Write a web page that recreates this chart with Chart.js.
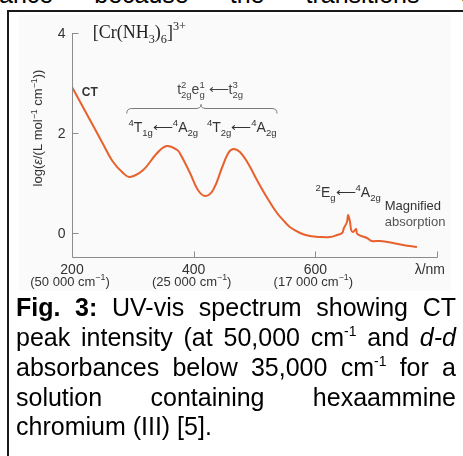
<!DOCTYPE html>
<html>
<head>
<meta charset="utf-8">
<script src="https://cdn.jsdelivr.net/npm/chart.js@4"></script>
<style>
  html, body { margin:0; padding:0; background:#fff; }
  #page { position:relative; width:463px; height:456px; overflow:hidden; background:#fff; }
  #frame { position:absolute; left:7px; top:10px; width:470px; height:460px; border-left:2px solid #1a1a1a; border-top:2px solid #1a1a1a; }
  #chartwrap { position:absolute; left:0; top:0; width:463px; height:456px; }
  .txt { position:absolute; font-family:"Liberation Sans", Arial, sans-serif; font-size:25px; line-height:30px; color:#000; white-space:nowrap; }
  .just { text-align:justify; text-align-last:justify; }
  sup { font-size:14px; line-height:0; vertical-align:10px; }
</style>
</head>
<body>
<div id="page">
  <div class="txt just" id="topline" style="left:-1px; top:-21px; width:474px;">ance because the transitions c</div>
  <div id="frame"></div>
  <div id="chartwrap"><canvas id="c" width="463" height="456"></canvas></div>
  <div class="txt just" style="left:16px; top:292px; width:440px;"><b>Fig. 3:</b> UV-vis spectrum showing CT</div>
  <div class="txt just" style="left:16px; top:322px; width:440px;">peak intensity (at 50,000 cm<sup>-1</sup> and <i>d-d</i></div>
  <div class="txt just" style="left:16px; top:352px; width:440px;">absorbances below 35,000 cm<sup>-1</sup> for a</div>
  <div class="txt just" style="left:16px; top:382px; width:440px;">solution containing hexaammine</div>
  <div class="txt" style="left:16px; top:411px;">chromium (III) [5].</div>
</div>
<script>
// ---- data ----
const wavelengthNm = [200,213,235,251,267,284,295,317,340,356,373,378,394,407,419,432,447,457,465,476,489,504,521,537,550,558,575,591,608,624,636,644,647,652,654,657,659,662,667,669,685,693,706,728,744,767];
const logEpsilon   = [2.92,2.63,2.14,1.78,1.43,1.2,1.12,1.26,1.6,1.74,1.66,1.58,1.2,0.86,0.74,0.86,1.32,1.6,1.68,1.62,1.4,1.06,0.7,0.4,0.22,0.12,0.0,-0.06,-0.08,-0.08,-0.04,0.0,0.1,0.22,0.36,0.22,0.06,0.02,0.08,-0.02,-0.1,-0.16,-0.16,-0.2,-0.24,-0.28];
const xTickValues  = [200, 400, 600, 800];
const xTickLabels  = ["200", "400", "600", ""];
const xTickWavenumbers = ["(50 000 cm", "(25 000 cm", "(17 000 cm"];
const yTickValues  = [0, 2, 4];
const yTickLabels  = ["0", "2", "4"];

const SANS = '"Liberation Sans", Arial, sans-serif';
const SERIF = '"Liberation Serif", "Times New Roman", serif';
const ARROW = '\u27f5';

function rich(ctx, segs, x, y, align, size, family, color, weight) {
  const fontFor = (m) => {
    const s = (m === 'sub' || m === 'sup' || m === 'supb') ? size * 0.68 : size;
    const st = m === 'i' ? 'italic ' : '';
    return st + (weight || '') + ' ' + s + 'px ' + family;
  };
  let total = 0, prevW = 0;
  segs.forEach(([t, m]) => {
    ctx.font = fontFor(m);
    const w = ctx.measureText(t).width;
    if (m === 'supb') { total += Math.max(0, w - prevW); }
    else { total += w; prevW = w; }
  });
  let cx = align === 'center' ? x - total / 2 : (align === 'right' ? x - total : x);
  ctx.textAlign = 'left'; ctx.textBaseline = 'alphabetic'; ctx.fillStyle = color;
  let prevX = cx; prevW = 0;
  segs.forEach(([t, m]) => {
    ctx.font = fontFor(m);
    const w = ctx.measureText(t).width;
    if (m === 'supb') {
      ctx.fillText(t, prevX, y - size * 0.42);
      cx = prevX + Math.max(w, prevW);
      return;
    }
    const dy = m === 'sub' ? size * 0.28 : (m === 'sup' ? -size * 0.42 : 0);
    ctx.fillText(t, cx, y + dy);
    prevX = cx; prevW = w;
    cx += w;
  });
}

const decor = {
  id: 'decor',
  beforeDraw(chart) {
    const ctx = chart.ctx;
    ctx.save();
    ctx.fillStyle = '#fafafa';
    ctx.fillRect(19, 15, 432, 276);
    ctx.restore();
  },
  afterDraw(chart) {
    const ctx = chart.ctx;
    const xs = chart.scales.x, ys = chart.scales.y;
    const X = v => xs.getPixelForValue(v), Y = v => ys.getPixelForValue(v);
    const ax = Math.round(X(200)) + 0.5, ay = Math.round(Y(ys.min)) + 0.5;
    ctx.save();
    // axes
    ctx.strokeStyle = '#8c8c8c'; ctx.lineWidth = 1;
    ctx.beginPath();
    ctx.moveTo(ax, Math.round(Y(4))); ctx.lineTo(ax, ay);
    ctx.lineTo(Math.round(X(800)) + 0.5, ay);
    ctx.stroke();
    // ticks
    ctx.beginPath();
    xTickValues.forEach(v => { if (v > 200) { const px = Math.round(X(v)) + 0.5; ctx.moveTo(px, ay); ctx.lineTo(px, ay - 6); } });
    yTickValues.forEach(v => { const py = Math.round(Y(v)) + 0.5; ctx.moveTo(ax, py); ctx.lineTo(ax + 6, py); });
    ctx.stroke();
    // tick labels
    const tc = '#333';
    ctx.font = '14px ' + SANS; ctx.fillStyle = tc; ctx.textAlign = 'center'; ctx.textBaseline = 'alphabetic';
    xTickValues.forEach((v, i) => { if (xTickLabels[i]) ctx.fillText(xTickLabels[i], X(v), ay + 16); });
    xTickWavenumbers.forEach((s, i) => {
      rich(ctx, [[s, ''], ['\u22121', 'sup'], [')', '']], X(xTickValues[i]) - 2, ay + 28, 'center', 13, SANS, tc);
    });
    rich(ctx, [['\u03bb/nm', '']], X(800) + 8, ay + 16, 'right', 14, SANS, tc);
    ctx.font = '14px ' + SANS;
    yTickValues.forEach((v, i) => { ctx.fillStyle = tc; ctx.textAlign = 'right'; ctx.fillText(yTickLabels[i], ax - 7, Y(v) + 5); });
    // y title
    ctx.save();
    ctx.translate(42, Y(2.1));
    ctx.rotate(-Math.PI / 2);
    rich(ctx, [['log(', ''], ['\u03b5', 'i'], ['/(L mol', ''], ['\u22121', 'sup'], [' cm', ''], ['\u22121', 'sup'], ['))', '']], 0, 0, 'center', 13, SANS, tc);
    ctx.restore();
    // annotations
    rich(ctx, [['[Cr(NH', ''], ['3', 'sub'], [')', ''], ['6', 'sub'], [']', ''], ['3+', 'sup']], X(234), Y(3.9), 'left', 18, SERIF, '#222');
    rich(ctx, [['CT', '']], X(216), Y(2.74), 'left', 12, SANS, '#333', 'bold');
    rich(ctx, [['t', ''], ['2g', 'sub'], ['2', 'supb'], ['e', ''], ['g', 'sub'], ['1', 'supb'], [' ' + ARROW + 't', ''], ['2g', 'sub'], ['3', 'supb']], X(427), Y(2.78), 'center', 14, SANS, '#444');
    rich(ctx, [['4', 'sup'], ['T', ''], ['1g', 'sub'], [ARROW, ''], ['4', 'sup'], ['A', ''], ['2g', 'sub']], X(350), Y(2.02), 'center', 14, SANS, '#333');
    rich(ctx, [['4', 'sup'], ['T', ''], ['2g', 'sub'], [ARROW, ''], ['4', 'sup'], ['A', ''], ['2g', 'sub']], X(479), Y(2.02), 'center', 14, SANS, '#333');
    rich(ctx, [['2', 'sup'], ['E', ''], ['g', 'sub'], [ARROW, ''], ['4', 'sup'], ['A', ''], ['2g', 'sub']], X(654), Y(0.72), 'center', 14, SANS, '#333');
    rich(ctx, [['Magnified', '']], X(714), Y(0.46), 'left', 13, SANS, '#333');
    rich(ctx, [['absorption', '']], X(714), Y(0.14), 'left', 13, SANS, '#555');
    // brace
    const bx1 = X(290), bx2 = X(537), bt = X(412), by = Math.round(Y(2.5)) + 0.5;
    ctx.strokeStyle = '#7a7a7a'; ctx.lineWidth = 1;
    ctx.beginPath();
    ctx.moveTo(bx1, by + 5);
    ctx.quadraticCurveTo(bx1, by, bx1 + 5, by);
    ctx.lineTo(bt - 5, by);
    ctx.quadraticCurveTo(bt, by, bt, by - 4);
    ctx.quadraticCurveTo(bt, by, bt + 5, by);
    ctx.lineTo(bx2 - 5, by);
    ctx.quadraticCurveTo(bx2, by, bx2, by + 5);
    ctx.stroke();
    ctx.restore();
  }
};

new Chart(document.getElementById('c'), {
  type: 'line',
  data: {
    datasets: [{
      data: wavelengthNm.map((x, i) => ({ x: x, y: logEpsilon[i] })),
      borderColor: '#e8602c',
      borderWidth: 2,
      pointRadius: 0,
      fill: false,
      tension: 0.4
    }]
  },
  options: {
    responsive: false,
    animation: false,
    layout: { padding: { left: 72, top: 33, right: 26, bottom: 199 } },
    scales: {
      x: { type: 'linear', min: 200, max: 800, display: false },
      y: { min: -0.48, max: 4, display: false }
    },
    plugins: { legend: { display: false }, tooltip: { enabled: false } }
  },
  plugins: [decor]
});
</script>
</body>
</html>
